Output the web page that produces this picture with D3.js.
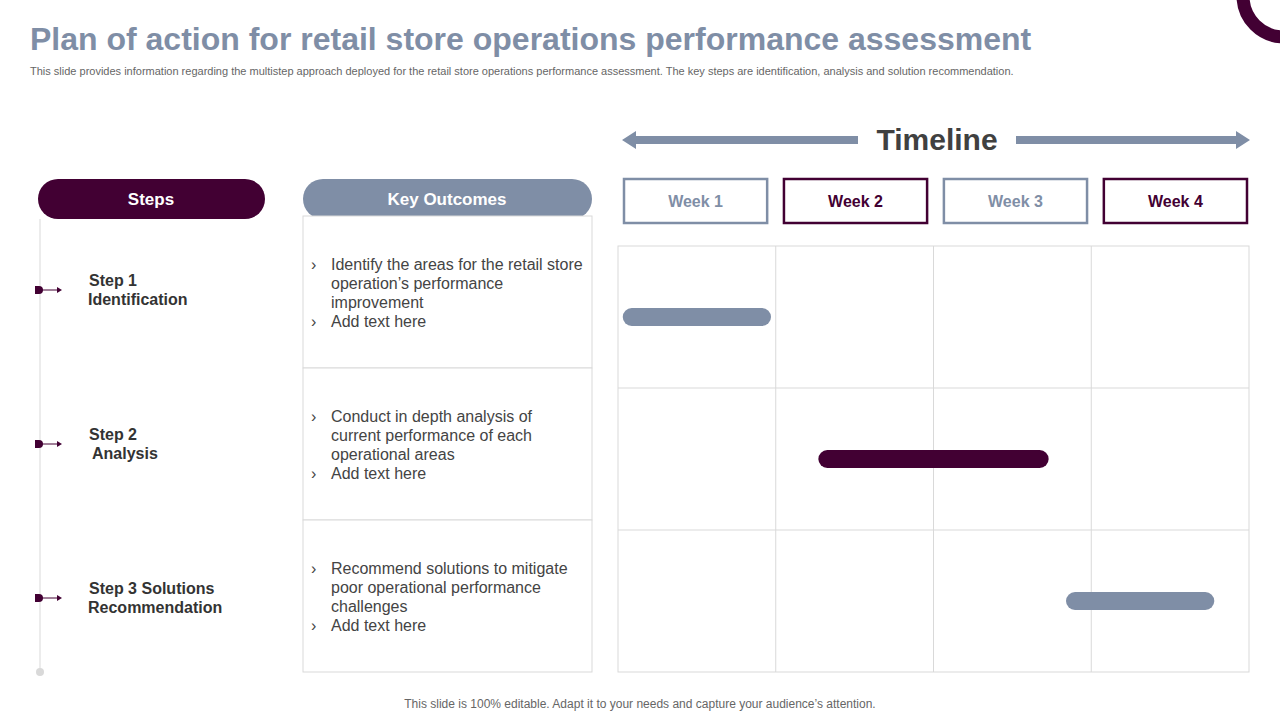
<!DOCTYPE html>
<html>
<head>
<meta charset="utf-8">
<script src="https://d3js.org/d3.v7.min.js"></script>
<style>body{margin:0;background:#fff}</style>
</head>
<body>
<div id="chart"></div>
<script>
const weeks = ["Week 1", "Week 2", "Week 3", "Week 4"];
const steps = [["Step 1", "Identification"], ["Step 2", "Analysis"], ["Step 3  Solutions", "Recommendation"]];
const outcomes = [
  ["Identify the areas for the retail store", "operation\u2019s performance", "improvement", "Add text here"],
  ["Conduct in depth analysis of", "current performance of each", "operational areas", "Add text here"],
  ["Recommend solutions to mitigate", "poor operational performance", "challenges", "Add text here"]
];
// bar start/end in weeks
const taskStart = [0.03, 1.27, 2.84];
const taskEnd = [0.97, 2.73, 3.78];
const taskColor = ["#7f8ea6", "#420033", "#7f8ea6"];

const plum = "#420033", slate = "#7f8ea6", grid = "#d9d9d9";
const svg = d3.select("#chart").append("svg").attr("width", 1280).attr("height", 720)
  .style("font-family", "Arial, 'Liberation Sans', sans-serif");

// corner ring
svg.append("circle").attr("cx", 1284).attr("cy", -4).attr("r", 41)
  .attr("fill", "none").attr("stroke", plum).attr("stroke-width", 13);

svg.append("text").attr("x", 30).attr("y", 50).attr("font-size", 32).attr("font-weight", "bold")
  .attr("fill", slate).text("Plan of action for retail store operations performance assessment");
svg.append("text").attr("x", 30).attr("y", 75).attr("font-size", 11).attr("fill", "#666")
  .text("This slide provides information regarding the multistep approach deployed for the retail store operations performance assessment. The key steps are identification, analysis and solution recommendation.");
svg.append("text").attr("x", 640).attr("y", 708).attr("font-size", 12).attr("fill", "#666")
  .attr("text-anchor", "middle").text("This slide is 100% editable. Adapt it to your needs and capture your audience\u2019s attention.");

// timeline header
svg.append("text").attr("x", 937).attr("y", 150).attr("font-size", 30).attr("font-weight", "bold")
  .attr("fill", "#404040").attr("text-anchor", "middle").text("Timeline");
svg.append("path").attr("d", "M858,136 H636 V131 L622,140 L636,149 V144 H858 Z").attr("fill", slate);
svg.append("path").attr("d", "M1016,136 H1236 V131 L1250,140 L1236,149 V144 H1016 Z").attr("fill", slate);

// scales
const x = d3.scaleLinear().domain([0, 4]).range([618, 1249]);
const row = d3.scaleBand().domain(d3.range(3)).range([246, 672]);
const head = d3.scaleBand().domain(weeks).range([620, 1247]).paddingInner(0.08);

weeks.forEach((w, i) => {
  const c = i % 2 ? plum : slate;
  svg.append("rect").attr("x", head(w) + 4).attr("y", 179).attr("width", head.bandwidth() - 4).attr("height", 44)
    .attr("fill", "#fff").attr("stroke", c).attr("stroke-width", 2.5);
  svg.append("text").attr("x", head(w) + 2 + head.bandwidth() / 2).attr("y", 207).attr("text-anchor", "middle")
    .attr("font-size", 16).attr("font-weight", "bold").attr("fill", c).text(w);
});

// grid
svg.append("rect").attr("x", x(0)).attr("y", 246).attr("width", x(4) - x(0)).attr("height", 426)
  .attr("fill", "none").attr("stroke", grid);
d3.range(1, 4).forEach(i => svg.append("line").attr("x1", x(i)).attr("x2", x(i)).attr("y1", 246).attr("y2", 672).attr("stroke", grid));
d3.range(1, 3).forEach(i => svg.append("line").attr("x1", x(0)).attr("x2", x(4)).attr("y1", row(i)).attr("y2", row(i)).attr("stroke", grid));

svg.selectAll("rect.task").data(d3.range(3)).join("rect").attr("class", "task")
  .attr("x", i => x(taskStart[i])).attr("width", i => x(taskEnd[i]) - x(taskStart[i]))
  .attr("y", i => row(i) + row.bandwidth() / 2 - 9).attr("height", 18).attr("rx", 9)
  .attr("fill", i => taskColor[i]);

// headers
svg.append("rect").attr("x", 38).attr("y", 179).attr("width", 227).attr("height", 40).attr("rx", 20).attr("fill", plum);
svg.append("text").attr("x", 151).attr("y", 205).attr("text-anchor", "middle").attr("font-size", 17)
  .attr("font-weight", "bold").attr("fill", "#fff").text("Steps");
svg.append("rect").attr("x", 303).attr("y", 179).attr("width", 289).attr("height", 40).attr("rx", 20).attr("fill", slate);
svg.append("text").attr("x", 447).attr("y", 205).attr("text-anchor", "middle").attr("font-size", 17)
  .attr("font-weight", "bold").attr("fill", "#fff").text("Key Outcomes");

// steps line
svg.append("line").attr("x1", 40).attr("x2", 40).attr("y1", 219).attr("y2", 672).attr("stroke", grid);
svg.append("circle").attr("cx", 40).attr("cy", 672).attr("r", 4).attr("fill", grid);

const oRow = d3.scaleBand().domain(d3.range(3)).range([216, 672]);
steps.forEach((s, i) => {
  const cy = [290, 444, 598][i];
  svg.append("path").attr("d", `M35,${cy - 4} h4 a4,4 0 0 1 0,8 h-4 Z`).attr("fill", plum);
  svg.append("line").attr("x1", 42).attr("x2", 58).attr("y1", cy).attr("y2", cy).attr("stroke", plum);
  svg.append("path").attr("d", `M62,${cy} l-5,-3 v6 Z`).attr("fill", plum);
  svg.append("text").attr("x", 89).attr("y", cy - 4).attr("font-size", 16).attr("font-weight", "bold").attr("fill", "#333").text(s[0]);
  svg.append("text").attr("x", i == 1 ? 92 : 88).attr("y", cy + 15).attr("font-size", 16).attr("font-weight", "bold").attr("fill", "#333").text(s[1]);

  svg.append("rect").attr("x", 303).attr("y", oRow(i)).attr("width", 289).attr("height", oRow.bandwidth())
    .attr("fill", "#fff").attr("stroke", grid);
  const lines = outcomes[i];
  const y0 = [270, 422, 574][i];
  lines.forEach((t, j) => {
    const bullet = j == 0 || j == lines.length - 1;
    if (bullet) svg.append("text").attr("x", 311).attr("y", y0 + j * 19).attr("font-size", 16).attr("fill", "#444").text("\u203A");
    svg.append("text").attr("x", 331).attr("y", y0 + j * 19).attr("font-size", 16).attr("fill", "#444").text(t);
  });
});
</script>
</body>
</html>
